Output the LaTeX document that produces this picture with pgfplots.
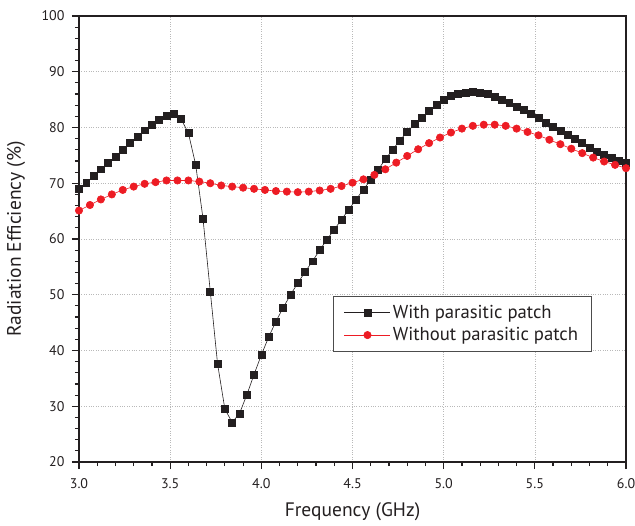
\documentclass[border=0pt]{standalone}
\usepackage{pgfplots}
\pgfplotsset{compat=1.18}
\usepackage{fontspec}
\setmainfont{PT Sans}
\definecolor{cblack}{HTML}{231F20}
\definecolor{cred}{HTML}{ED1C24}
\begin{document}
\begin{tikzpicture}
\begin{axis}[
  name=ax,
  scale only axis,
  width=547bp, height=446bp,
  xmin=3, xmax=6, ymin=20, ymax=100,
  xtick={3,3.5,...,6}, ytick={20,30,...,100},
  minor x tick num=4, minor y tick num=4,
  /pgf/number format/assume math mode=true,
  tick label style={font=\fontsize{14bp}{16bp}\selectfont, text=cblack},
  xticklabel style={/pgf/number format/fixed, /pgf/number format/fixed zerofill, /pgf/number format/precision=1, yshift=-6bp},
  yticklabel style={xshift=-4bp},
  label style={font=\fontsize{19.5bp}{22bp}\selectfont, text=cblack},
  xlabel={Frequency (GHz)},
  ylabel={Radiation Efficiency (\%)},
  xlabel style={at={([yshift=-50bp]axis description cs:0.5,0)}, anchor=center},
  ylabel style={at={([xshift=-63bp]axis description cs:0,0.5)}, anchor=center},
  tick align=outside, tick pos=left,
  major tick length=7bp, minor tick length=4bp,
  every tick/.style={cblack, line width=1.2pt},
  axis line style={cblack, line width=1.5pt},
  grid=major,
  major grid style={gray!55, dotted, line width=0.6pt},
  clip=false,
  legend style={at={(0.937,0.247)}, anchor=south east, draw=black!70, line width=0.8pt,
    font=\fontsize{18.7bp}{21bp}\selectfont, text=cblack, inner xsep=11bp, inner ysep=7bp,
    row sep=4bp, cells={anchor=west}},
  legend image code/.code={\draw[mark repeat=2, mark phase=2] plot coordinates {(0bp,0bp)(23bp,0bp)(46bp,0bp)};},
]
\addplot[cblack, line width=0.6pt, mark=square*, mark size=3.5pt, mark options={fill=cblack, draw=cblack}] coordinates {
(3.00,69.0)(3.04,70.1)(3.08,71.3)(3.12,72.5)(3.16,73.7)(3.20,74.8)(3.24,76.0)(3.28,77.2)(3.32,78.4)(3.36,79.5)
(3.40,80.5)(3.44,81.4)(3.48,82.1)(3.52,82.4)(3.56,81.5)(3.60,79.0)(3.64,73.3)(3.68,63.7)(3.72,50.6)(3.76,37.6)
(3.80,29.5)(3.84,27.1)(3.88,28.7)(3.92,32.0)(3.96,35.7)(4.00,39.2)(4.04,42.4)(4.08,45.2)(4.12,47.7)(4.16,50.0)
(4.20,52.1)(4.24,54.1)(4.28,56.0)(4.32,58.0)(4.36,59.9)(4.40,61.7)(4.44,63.5)(4.48,65.3)(4.52,67.1)(4.56,68.9)
(4.60,70.6)(4.64,72.4)(4.68,74.3)(4.72,76.0)(4.76,77.7)(4.80,79.2)(4.84,80.6)(4.88,81.8)(4.92,83.0)(4.96,84.1)
(5.00,84.9)(5.04,85.6)(5.08,86.1)(5.12,86.3)(5.16,86.4)(5.20,86.3)(5.24,86.0)(5.28,85.5)(5.32,84.9)(5.36,84.4)
(5.40,83.8)(5.44,83.1)(5.48,82.4)(5.52,81.7)(5.56,80.9)(5.60,80.2)(5.64,79.4)(5.68,78.7)(5.72,77.9)(5.76,77.2)
(5.80,76.4)(5.84,75.7)(5.88,75.1)(5.92,74.5)(5.96,74.0)(6.00,73.6)
};
\addlegendentry{With parasitic patch}
\addplot[cred, line width=0.6pt, mark=*, mark size=3.7pt, mark options={fill=cred, draw=cred}] coordinates {
(3.00,65.1)(3.06,66.1)(3.12,67.1)(3.18,68.0)(3.24,68.8)(3.30,69.4)(3.36,69.9)(3.42,70.2)(3.48,70.5)(3.54,70.5)
(3.60,70.5)(3.66,70.3)(3.72,70.0)(3.78,69.6)(3.84,69.4)(3.90,69.2)(3.96,69.0)(4.02,68.8)(4.08,68.6)(4.14,68.5)
(4.20,68.4)(4.26,68.5)(4.32,68.7)(4.38,69.0)(4.44,69.5)(4.50,70.1)(4.56,70.7)(4.62,71.5)(4.68,72.5)(4.74,73.7)
(4.80,74.9)(4.86,76.1)(4.92,77.2)(4.98,78.2)(5.04,79.1)(5.10,79.8)(5.16,80.3)(5.22,80.5)(5.28,80.5)(5.34,80.3)
(5.40,79.8)(5.46,79.2)(5.52,78.6)(5.58,77.8)(5.64,77.0)(5.70,76.2)(5.76,75.4)(5.82,74.6)(5.88,73.9)(5.94,73.3)
(6.00,72.7)
};
\addlegendentry{Without parasitic patch}
\end{axis}
\pgfresetboundingbox
\path[use as bounding box] ([shift={(-79bp,-64bp)}]ax.south west) rectangle ([shift={(9bp,16bp)}]ax.north east);
\end{tikzpicture}
\end{document}
